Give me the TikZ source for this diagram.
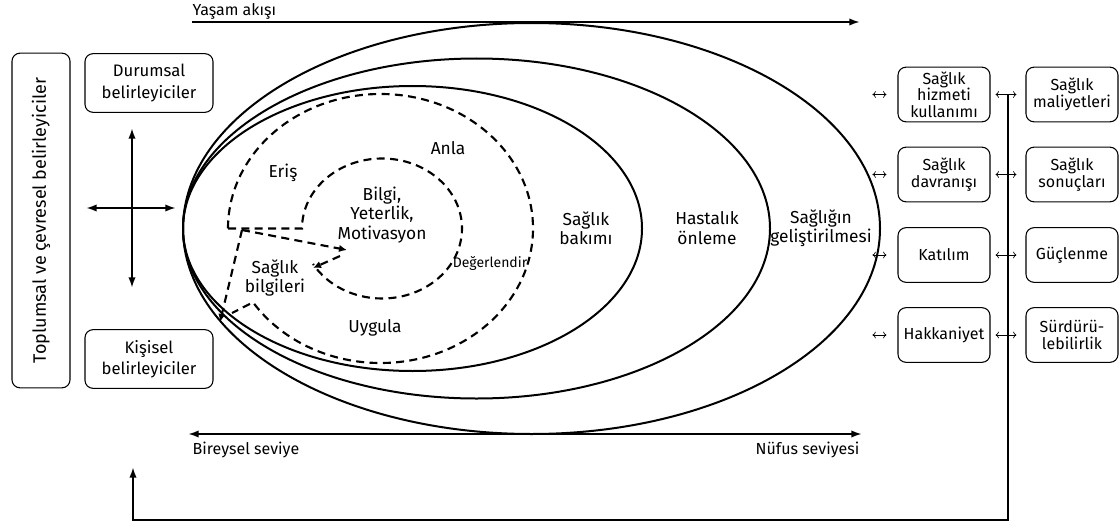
\documentclass[tikz,border=0pt]{standalone}
\usepackage{fontspec}
\setmainfont{Fira Sans}
\usetikzlibrary{arrows.meta,calc}

\begin{document}
\begin{tikzpicture}[x=0.75pt,y=-0.75pt,font=\fontsize{12}{14}\selectfont,
  ring/.style={line width=1.5pt},
  dashring/.style={line width=1.6pt,dash pattern=on 6pt off 4pt},
  dasharrow/.style={dashring,-{Latex[length=6pt,width=5.5pt]}},
  bigarrow/.style={line width=1.5pt,-{Latex[length=8pt,width=5.5pt]}},
  bothway/.style={line width=1.5pt,{Latex[length=8pt,width=5.5pt]}-{Latex[length=8pt,width=5.5pt]}},
  smallarrow/.style={line width=0.5pt,{To[length=2.5pt,width=5pt]}-{To[length=2.5pt,width=5pt]}},
  detbox/.style={draw,line width=0.8pt,rounded corners=6pt,align=center,minimum width=96pt,minimum height=44pt,inner sep=2pt,font=\fontsize{12.5}{16}\selectfont},
  outbox/.style={draw,line width=0.8pt,rounded corners=6pt,align=center,minimum width=69pt,minimum height=41pt,inner sep=1pt,font=\fontsize{12}{12.5}\selectfont},
  zone/.style={align=center,font=\fontsize{13}{14.5}\selectfont}]
\useasboundingbox (0,0) rectangle (1120,528);

% nested fields
\draw[ring] (531.5,228.5) ellipse [x radius=348.5, y radius=205.5];
\draw[ring] (476.5,228.5) ellipse [x radius=293.5, y radius=170];
\draw[ring] (412.5,228.5) ellipse [x radius=229.5, y radius=142.5];

% health literacy core
\draw[dashring] (228,228.5) arc [start angle=180, end angle=506.7, x radius=152.5, y radius=134.5] -- (232,313);
\draw[dashring] (228,228.5) -- (302,228.5) arc [start angle=180, end angle=509.6, x radius=80, y radius=70];
\draw[dasharrow] (242,230) -- (347,250);
\draw[dasharrow] (340,256) -- (313,268);
\draw[dasharrow] (242,230) -- (220,322);

\node[zone] (eris) at (283,173) {Eriş};
\node[zone] (anla) at (448,148) {Anla};
\node[zone] (bilgi) at (382,215) {Bilgi,\\Yeterlik,\\Motivasyon};
\node[zone] (bilgiler) at (275,278) {Sağlık\\bilgileri};
\node[zone] (uygula) at (375,328) {Uygula};
\node[zone,font=\fontsize{10.5}{12}\selectfont] (degerlendir) at (490,263) {Değerlendir};
\node[zone] (bakim) at (586,228) {Sağlık\\bakımı};
\node[zone] (onleme) at (707,228) {Hastalık\\önleme};
\node[zone] (gelistir) at (821,228) {Sağlığın\\geliştirilmesi};

% determinants
\node[detbox,rotate=90,minimum width=251pt,minimum height=43.5pt,font=\fontsize{13.5}{16}\selectfont] (toplum) at (41,220.5) {Toplumsal ve çevresel belirleyiciler};
\node[detbox] (durum) at (149,83) {Durumsal\\belirleyiciler};
\node[detbox] (kisi) at (149,359) {Kişisel\\belirleyiciler};

\coordinate (crossN) at (132,128);
\coordinate (crossS) at (132,288);
\coordinate (crossW) at (86,208);
\coordinate (crossE) at (176,208);
\draw[bothway] (crossN) -- (crossS);
\draw[bothway] (crossW) -- (crossE);

% life course and levels
\node[anchor=west] (life) at (188,11) {Yaşam akışı};
\coordinate (lifeA) at (192,22);
\coordinate (lifeB) at (860,22);
\draw[bigarrow] (lifeA) -- (lifeB);

\coordinate (levelL) at (188,434);
\coordinate (levelR) at (862,434);
\draw[bothway] (levelL) -- (levelR);
\node[anchor=west] (bireysel) at (188,450) {Bireysel seviye};
\node[anchor=east] (nufus) at (864,450) {Nüfus seviyesi};

% outcomes
\node[outbox] (hizmet) at (944,94.5) {Sağlık\\hizmeti\\kullanımı};
\node[outbox] (davranis) at (944,174.5) {Sağlık\\davranışı};
\node[outbox] (katilim) at (944,255) {Katılım};
\node[outbox] (hakkaniyet) at (944,335) {Hakkaniyet};
\node[outbox] (maliyet) at (1072,94.5) {Sağlık\\maliyetleri};
\node[outbox] (sonuc) at (1072,174.5) {Sağlık\\sonuçları};
\node[outbox] (guclenme) at (1072,255) {Güçlenme};
\node[outbox] (surdur) at (1072,335) {Sürdürü-\\lebilirlik};

% feedback loop
\coordinate (fbtop) at ($(hizmet.east)!0.5!(maliyet.west)$);
\coordinate (fbleft) at (133,520);
\coordinate (fbend) at (133,467);
\draw[bigarrow] (fbtop) |- (fbleft) -- (fbend);

\foreach \a/\b in {hizmet/maliyet,davranis/sonuc,katilim/guclenme,hakkaniyet/surdur}{
  \draw[smallarrow] ([xshift=-18.75pt]\a.west) -- ([xshift=-8.25pt]\a.west);
  \draw[smallarrow] ([xshift=3.75pt]\a.east) -- ([xshift=-6.75pt]\b.west);
}

\end{tikzpicture}
\end{document}
